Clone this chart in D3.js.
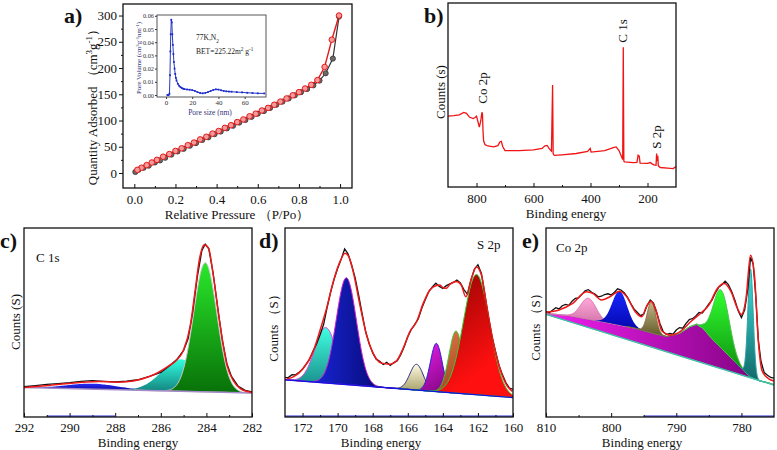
<!DOCTYPE html>
<html>
<head>
<meta charset="utf-8">
<script src="https://d3js.org/d3.v7.min.js"></script>
<style>
  body { margin: 0; background: #fff; }
  svg text { font-family: "Liberation Serif", "DejaVu Serif", serif; }
</style>
</head>
<body>
<svg id="fig" width="777" height="450"></svg>
<script>
// ---- a) N2 isotherm (adsorption = black, desorption = red) ----
var adsP = [0.005,0.02,0.045,0.07,0.1,0.125,0.15,0.18,0.21,0.24,0.27,0.3,0.33,0.36,0.39,0.42,0.45,0.48,0.51,0.54,0.57,0.6,0.63,0.66,0.69,0.72,0.75,0.78,0.81,0.84,0.87,0.9,0.93,0.965,0.995];
var adsQ = [2,6,10,14,20,24,29,35,41,46,52,57,63,68,74,79,85,90,96,101,107,113,118,124,130,136,142,148,154,160,167,176,190,218,298];
var desP = [0.995,0.96,0.925,0.89,0.86,0.83,0.8,0.77,0.74,0.71,0.68,0.65,0.62,0.59,0.56,0.53,0.5,0.47,0.44,0.41,0.38,0.35,0.32,0.29,0.26,0.23,0.2,0.17,0.14,0.11,0.085,0.06,0.035,0.015];
var desQ = [300,254,202,177,168,161,154,148,142,136,130,124,119,113,108,102,97,91,86,80,75,69,64,58,53,47,42,36,31,25,20,15,10,6];
var isoXTicks = [0,0.2,0.4,0.6,0.8,1.0];
var isoYTicks = [0,50,100,150,200,250,300];

// inset: pore size distribution
var poreD = [1,2,2.6,3,3.3,3.6,4,4.4,4.8,5.2,5.6,6,6.5,7,7.5,8,9,10,11,12,13,14,16,18,20,22,24,26,28,30,32,34,36,38,40,42,44,46,48,50,54,58,62,66,70,75];
var poreV = [0,0,0.001,0.015,0.033,0.046,0.057,0.055,0.046,0.038,0.031,0.025,0.02,0.016,0.013,0.011,0.0085,0.007,0.006,0.0053,0.0048,0.0045,0.0042,0.004,0.0037,0.0031,0.0022,0.0015,0.0013,0.0016,0.0022,0.003,0.0038,0.0043,0.0041,0.0036,0.0031,0.0028,0.0026,0.0025,0.0022,0.002,0.0017,0.0015,0.0013,0.0012];
var poreXTicks = [0,20,40,60];
var poreYTicks = [0,0.01,0.02,0.03,0.04,0.05,0.06];

// ---- b) survey spectrum ----
var surveyE = [900,880,860,845,835,825,812,805,800,795,790,785,781,779,777,775,770,760,740,725,718,713,708,700,650,600,570,560,552,545,537,533,531,527,500,450,410,401,398,350,320,310,300,292,287,285,283,280,250,237,233,229,226,200,190,185,178,170,168,166,164,162,155,130,110,100];
var surveyI = [38.5,38.8,39.2,40.5,40.0,38.0,37.2,37.8,38.5,35.5,32.5,36.0,40.6,39.5,30.0,25.0,23.0,22.3,21.8,22.5,24.5,24.8,22.0,19.8,19.8,20.2,21.0,22.4,22.6,20.8,19.5,55.4,18.0,17.2,17.5,18.2,19.3,21.0,19.0,19.8,21.4,21.8,19.8,16.8,15.0,76.0,14.0,13.6,13.2,13.4,17.3,16.8,13.0,12.8,13.3,12.7,12.0,11.8,18.2,14.0,17.0,11.5,10.6,10.3,10.0,11.2];
var surveyTicks = [800,600,400,200];

// ---- c) C 1s ----
var c1sFitE = [292,290.9,289.4,288.7,288.0,287.2,286.5,285.7,285.3,285.0,284.7,284.5,284.3,284.1,283.9,283.7,283.4,283.1,282.8,282.5,282.0];
var c1sFitI = [15.6,16.7,18.4,18.8,18.4,19.1,21.4,26.7,30.2,35.5,48.7,66.3,83.8,91.2,89.1,75.0,48.7,27.6,18.8,14.9,13.0];
var c1sRaw = [[292,16.0],[291.5,16.6],[291,17.3],[290.5,17.7],[290,18.2],[289.5,18.9],[289,19.2],[288.5,18.9],[288,18.6],[287.5,19.0],[287,19.7],[286.5,21.5],[286,23.6],[285.6,27.3],[285.3,30.4],[285,35.2],[284.8,41.5],[284.6,55.5],[284.4,74.0],[284.2,88.0],[284.05,91.5],[283.9,89.3],[283.7,75.8],[283.5,57.5],[283.3,40.5],[283.1,28.2],[282.9,21.5],[282.6,16.2],[282.3,14.1],[282,13.3]];
var c1sBase = [15.6, 12.7];
var c1sCenter = [289.0, 285.1, 284.05];
var c1sHeight = [2.9, 16.9, 68.3];
var c1sFwhm = [2.6, 2.0, 1.2];
var c1sTicks = [292,290,288,286,284,282];

// ---- d) S 2p ----
var s2pFitE = [172.9,172.5,171.95,171.4,170.91,170.63,170.25,169.87,169.58,169.39,169.11,168.73,168.35,167.97,167.5,167.02,166.64,166.26,165.88,165.5,165.12,164.74,164.36,164.17,163.98,163.79,163.6,163.22,162.94,162.69,162.37,162.08,161.8,161.51,161.13,160.75,160.37,160.03];
var s2pFitI = [20.2,21.4,25.8,34.6,48.7,57.5,71.6,82.1,86.6,85.3,76.8,59.3,43.4,33.7,28.5,27.9,29.7,36.4,45.2,50.4,60.1,67.2,69.6,69.8,68.4,68.1,70.2,71.7,69.6,63.6,73.3,79.4,75.1,59.3,39.9,25.8,17.0,13.5];
var s2pRaw = [[173,20.8],[172.8,21.0],[172.6,22.4],[172.4,22.3],[172.2,23.6],[172,25.4],[171.8,27.8],[171.6,30.5],[171.4,34.9],[171.2,38.6],[171,43.5],[170.8,48.9],[170.6,57.9],[170.4,66.0],[170.2,72.8],[170,78.6],[169.8,83.4],[169.6,88.9],[169.5,87.6],[169.4,86.2],[169.2,80.4],[169,73.6],[168.8,64.5],[168.6,54.6],[168.4,45.1],[168.2,38.8],[168,33.9],[167.8,30.6],[167.6,29.5],[167.4,27.8],[167.2,28.9],[167,27.3],[166.8,28.8],[166.6,29.7],[166.4,33.0],[166.2,37.3],[166,42.5],[165.8,46.3],[165.6,49.0],[165.4,52.0],[165.2,57.5],[165,62.1],[164.8,66.4],[164.6,68.8],[164.4,70.8],[164.2,69.1],[164,68.0],[163.8,69.5],[163.6,70.4],[163.4,71.2],[163.2,72.5],[163,70.9],[162.8,67.4],[162.6,65.0],[162.4,72.4],[162.2,78.3],[162,80.6],[161.8,75.9],[161.6,64.8],[161.4,53.0],[161.2,42.7],[161,34.9],[160.8,27.4],[160.6,22.3],[160.4,18.1],[160.2,15.3],[160,14.6]];
var s2pBase = [19.7, 10.3];
var s2pCenter = [170.68, 169.5, 165.5, 164.37, 163.25, 162.08];
var s2pHeight = [29.3, 56.5, 13.6, 25.5, 32.8, 63.6];
var s2pFwhm = [1.45, 1.35, 0.9, 0.8, 0.95, 1.75];
var s2pTicks = [172,170,168,166,164,162,160];

// ---- e) Co 2p ----
var co2pFitE = [810,808,805.9,803.8,802.8,801.5,800.2,798.7,797.6,796.3,795.3,794.6,793.9,793.2,792.2,790.9,789.3,787.8,786.3,785,783.7,782.6,781.6,780.6,780,779.3,778.6,778,777.4,776.8,775.8,775];
var co2pFitI = [55.4,56.6,60.1,66.3,65.4,61.9,63.6,66.6,63.6,55.7,53.0,58.3,61.3,57.4,45.5,43.4,45.5,50.4,54.8,59.2,68.0,70.6,66.3,57.4,54.2,62.6,85.6,75.0,39.9,24.2,20.2,19.1];
var co2pRaw = [[810,55.8],[809.5,55.2],[809,56.5],[808.5,57.8],[808,57.2],[807.5,58.9],[807,59.6],[806.5,59.1],[806,61.3],[805.5,62.8],[805,63.0],[804.5,64.9],[804,66.8],[803.5,67.4],[803,66.0],[802.5,65.1],[802,63.6],[801.5,63.9],[801,64.8],[800.5,65.2],[800,64.6],[799.5,66.0],[799,67.8],[798.5,67.2],[798,65.8],[797.5,63.4],[797,60.1],[796.5,57.2],[796,55.5],[795.5,53.6],[795,54.4],[794.5,58.9],[794,61.9],[793.5,60.3],[793,55.2],[792.5,49.4],[792,45.1],[791.5,43.6],[791,44.2],[790.5,43.8],[790,46.0],[789.5,47.3],[789,47.0],[788.5,49.5],[788,51.6],[787.5,52.0],[787,53.5],[786.5,55.3],[786,55.0],[785.5,57.4],[785,59.8],[784.5,62.0],[784,65.6],[783.5,68.6],[783,70.0],[782.5,71.9],[782,70.1],[781.5,66.4],[781,61.8],[780.5,56.2],[780,52.6],[779.5,56.7],[779,68.0],[778.6,84.5],[778.2,81.0],[777.8,64.0],[777.4,40.5],[777,29.5],[776.5,23.5],[776,22.1],[775.5,20.9],[775,20.6]];
var co2pBase = [54.3, 16.9];
var co2pBgE = [810,806.4,801.3,796.2,793.6,791.5,789.5,787.9,786.9,785.9,784.4,782.3,780.3,778.7,777.2,775];
var co2pBgI = [54.8,53.6,50.4,46.9,44.3,42.6,44.3,47.8,49.0,46.9,40.8,33.7,26.7,21.4,19.1,17.4];
var co2pCenter = [803.5, 798.7, 793.8, 783.1, 778.6];
var co2pHeight = [11, 18, 16.7, 30.7, 57];
var co2pFwhm = [2.8, 2.7, 1.5, 2.9, 0.95];
var co2pTicks = [810,800,790,780];

// ---------------------------------------------------------------
var FONT = '"Liberation Serif", "DejaVu Serif", serif';
var svg = d3.select("#fig");
var defs = svg.append("defs");

// gradient fill; dir v = top->bottom, h = left->right, d = diagonal
function grad(id, c1, c2, dir, mid) {
  var lg = defs.append("linearGradient").attr("id", id)
    .attr("x1", 0).attr("y1", 0)
    .attr("x2", dir == "v" ? 0 : 1).attr("y2", dir == "h" ? 0 : 1);
  lg.append("stop").attr("offset", "0%").attr("stop-color", c1);
  lg.append("stop").attr("offset", mid || "100%").attr("stop-color", c2);
  return "url(#" + id + ")";
}

function gauss(E, c, h, w) {
  return h * Math.exp(-4 * Math.LN2 * (E - c) * (E - c) / (w * w));
}

function frame(b) {
  svg.append("rect").attr("x", b.l).attr("y", b.t)
    .attr("width", b.r - b.l).attr("height", b.b - b.t)
    .attr("fill", "none").attr("stroke", "#111").attr("stroke-width", 1.3);
}

function clip(id, b) {
  defs.append("clipPath").attr("id", id).append("rect")
    .attr("x", b.l).attr("y", b.t).attr("width", b.r - b.l).attr("height", b.b - b.t);
  return svg.append("g").attr("clip-path", "url(#" + id + ")");
}

// bottom axis, major + minor ticks
function bottomAxis(b, x, major, minor, fmt, inward, pad) {
  var g = svg.append("g").attr("transform", "translate(0," + b.b + ")");
  g.call(d3.axisBottom(x).tickValues(major).tickSize(inward ? -4 : 4).tickPadding(pad).tickFormat(fmt));
  g.attr("font-family", FONT).attr("font-size", 13).attr("color", "#111");
  g.select(".domain").remove();
  var m = svg.append("g").attr("transform", "translate(0," + b.b + ")");
  m.call(d3.axisBottom(x).tickValues(minor).tickSize(inward ? -2 : 2).tickFormat(""));
  m.attr("color", "#111");
  m.select(".domain").remove();
}

function label(txt, x, y, size, weight) {
  return svg.append("text").attr("x", x).attr("y", y)
    .attr("font-size", size).attr("font-weight", weight || "normal")
    .attr("fill", "#111").text(txt);
}

function rich(t, parts, size) {
  parts.forEach(function(p) {
    var s = t.append("tspan").text(p[0]);
    if (p[1] == "sup") s.attr("baseline-shift", "super").attr("font-size", size * 0.7);
    if (p[1] == "sub") s.attr("baseline-shift", "sub").attr("font-size", size * 0.7);
  });
}

function vlabel(parts, x, y, size, color) {
  var t = svg.append("text")
    .attr("transform", "translate(" + x + "," + y + ") rotate(-90)")
    .attr("text-anchor", "middle").attr("font-size", size).attr("fill", color || "#111");
  rich(t, parts, size);
  return t;
}

function xtitle(x, y) {
  svg.append("text").attr("x", x).attr("y", y).attr("text-anchor", "middle")
    .attr("font-size", 13).attr("fill", "#111").text("Binding energy");
}

// ===================== a) isotherm =====================
var A = {l: 123, r: 352, t: 4, b: 188};
var xa = d3.scaleLinear().domain([-0.055, 1.058]).range([A.l, A.r]);
var ya = d3.scaleLinear().domain([-28.6, 322]).range([A.b, A.t]);

bottomAxis(A, xa, isoXTicks, [0.1,0.3,0.5,0.7,0.9], d3.format(".1f"), true, 7);
var gyA = svg.append("g").attr("transform", "translate(" + A.l + ",0)");
gyA.call(d3.axisLeft(ya).tickValues(isoYTicks).tickSize(4).tickPadding(2));
gyA.attr("font-family", FONT).attr("font-size", 13).attr("color", "#111");
gyA.select(".domain").remove();
var gyAm = svg.append("g").attr("transform", "translate(" + A.l + ",0)");
gyAm.call(d3.axisLeft(ya).tickValues([25,75,125,175,225,275]).tickSize(2).tickFormat(""));
gyAm.attr("color", "#111"); gyAm.select(".domain").remove();

var ads = adsP.map(function(p, i) { return [p, adsQ[i]]; });
var des = desP.map(function(p, i) { return [p, desQ[i]]; });
var isoLine = d3.line().x(function(d) { return xa(d[0]); }).y(function(d) { return ya(d[1]); });

svg.append("path").attr("d", isoLine(ads)).attr("fill", "none").attr("stroke", "#333").attr("stroke-width", 1.2);
svg.append("path").attr("d", isoLine(des)).attr("fill", "none").attr("stroke", "#e81818").attr("stroke-width", 1.4);
svg.append("g").selectAll("circle").data(ads).enter().append("circle")
  .attr("cx", function(d) { return xa(d[0]); }).attr("cy", function(d) { return ya(d[1]); })
  .attr("r", 2.6).attr("fill", "#6a6a6a").attr("stroke", "#333").attr("stroke-width", 0.8);
svg.append("g").selectAll("circle").data(des).enter().append("circle")
  .attr("cx", function(d) { return xa(d[0]); }).attr("cy", function(d) { return ya(d[1]); })
  .attr("r", 2.8).attr("fill", "#f49a9a").attr("stroke", "#e81818").attr("stroke-width", 1);
frame(A);

label("a)", 64, 23, 22, "bold");
svg.append("text").attr("x", 237).attr("y", 219).attr("text-anchor", "middle")
  .attr("font-size", 13).attr("fill", "#111").text("Relative Pressure \uff08P/Po\uff09");
vlabel([["Quantity Adsorbed \uff08cm"], ["3", "sup"], ["g"], ["-1", "sup"], ["\uff09"]], 97, 104, 13);

// inset
var I = {l: 157, r: 266, t: 15, b: 97};
svg.append("rect").attr("x", I.l).attr("y", I.t).attr("width", I.r - I.l).attr("height", I.b - I.t).attr("fill", "#fff");
var xi = d3.scaleLinear().domain([-6.9, 76.3]).range([I.l, I.r]);
var yi = d3.scaleLinear().domain([-0.0015, 0.0606]).range([I.b, I.t]);
var gxi = svg.append("g").attr("transform", "translate(0," + I.b + ")");
gxi.call(d3.axisBottom(xi).tickValues(poreXTicks).tickSize(2).tickPadding(1));
gxi.attr("font-family", FONT).attr("font-size", 7).attr("color", "#333");
gxi.select(".domain").remove();
var gyi = svg.append("g").attr("transform", "translate(" + I.l + ",0)");
gyi.call(d3.axisLeft(yi).tickValues(poreYTicks).tickSize(2).tickPadding(1).tickFormat(d3.format(".2f")));
gyi.attr("font-family", FONT).attr("font-size", 6.3).attr("color", "#333");
gyi.select(".domain").remove();
var pore = poreD.map(function(d, i) { return [d, poreV[i]]; });
svg.append("path").attr("d", d3.line().x(function(d) { return xi(d[0]); }).y(function(d) { return yi(d[1]); })(pore))
  .attr("fill", "none").attr("stroke", "#2a3ac0").attr("stroke-width", 1);
svg.append("g").selectAll("rect").data(pore).enter().append("rect")
  .attr("x", function(d) { return xi(d[0]) - 0.9; }).attr("y", function(d) { return yi(d[1]) - 0.9; })
  .attr("width", 1.8).attr("height", 1.8).attr("fill", "#1a2ad0");
svg.append("rect").attr("x", I.l).attr("y", I.t).attr("width", I.r - I.l).attr("height", I.b - I.t)
  .attr("fill", "none").attr("stroke", "#444").attr("stroke-width", 0.9);
var t77 = svg.append("text").attr("x", 196).attr("y", 40).attr("font-size", 7.5).attr("fill", "#222");
rich(t77, [["77K,N"], ["2", "sub"]], 7.5);
var tbet = svg.append("text").attr("x", 196).attr("y", 54).attr("font-size", 7.5).attr("fill", "#222");
rich(tbet, [["BET=225.22m"], ["2", "sup"], [" g"], ["-1", "sup"]], 7.5);
svg.append("text").attr("x", 210).attr("y", 115).attr("text-anchor", "middle")
  .attr("font-size", 7.5).attr("fill", "#33337a").text("Pore size (nm)");
vlabel([["Pore Volume (cm"], ["3", "sup"], ["g"], ["-1", "sup"], ["nm"], ["-1", "sup"], [")"]], 141, 58, 6.8, "#33337a");

// ===================== b) survey =====================
var B = {l: 448, r: 676, t: 3, b: 187};
var xb = d3.scaleLinear().domain([900, 100]).range([B.l, B.r]);
var yb = d3.scaleLinear().domain([0, 100]).range([B.b, B.t]);
bottomAxis(B, xb, surveyTicks, [700,500,300], d3.format("d"), true, 7);
var survey = surveyE.map(function(e, i) { return [e, surveyI[i]]; });
svg.append("path").attr("d", d3.line().x(function(d) { return xb(d[0]); }).y(function(d) { return yb(d[1]); })(survey))
  .attr("fill", "none").attr("stroke", "#f01414").attr("stroke-width", 1.3);
frame(B);
label("b)", 424, 23, 22, "bold");
xtitle(566, 218);
vlabel([["Counts (s)"]], 445, 92, 13);
vlabel([["Co 2p"]], 487, 88, 13);
vlabel([["C 1s"]], 627, 31, 13);
vlabel([["S 2p"]], 661, 137, 13);

// ===================== XPS panels =====================
function xpsPanel(o) {
  var b = o.box;
  var x = d3.scaleLinear().domain(o.dom).range([b.l, b.r]);
  var y = d3.scaleLinear().domain([0, 100]).range([b.b, b.t]);
  var base = d3.scaleLinear().domain(o.dom).range(o.base);
  var under = o.bg ? d3.scaleLinear().domain(o.bg[0]).range(o.bg[1]) : base;
  var g = clip(o.id, b);

  if (o.bg) {
    var pts = d3.range(o.dom[0], o.dom[1] - 0.05, -0.1);
    g.append("path").attr("d", d3.area().x(function(E) { return x(E); })
        .y0(function(E) { return y(base(E)); }).y1(function(E) { return y(under(E)); })(pts))
      .attr("fill", grad(o.id + "bg", "#f020f0", "#7a007a", "h"))
      .attr("stroke", "#58b878").attr("stroke-width", 1);
  }
  o.center.forEach(function(c, i) {
    var w = o.fwhm[i], h = o.height[i];
    var pts = d3.range(c + 2.6 * w, c - 2.6 * w, -w / 40);
    var st = o.style[i];
    g.append("path").attr("d", d3.area().x(function(E) { return x(E); })
        .y0(function(E) { return y(under(E)); })
        .y1(function(E) { return y(under(E) + gauss(E, c, h, w)); })(pts))
      .attr("fill", grad(o.id + i, st[0], st[1], st[2], st[4]))
      .attr("stroke", st[3]).attr("stroke-width", 1);
  });
  g.append("line").attr("x1", x(o.dom[0])).attr("x2", x(o.dom[1]))
    .attr("y1", y(o.base[0])).attr("y2", y(o.base[1]))
    .attr("stroke", o.baseColor).attr("stroke-width", 1.3);
  g.append("path").attr("d", d3.line().x(function(d) { return x(d[0]); }).y(function(d) { return y(d[1]); })(o.raw))
    .attr("fill", "none").attr("stroke", "#111").attr("stroke-width", 1.3);
  var fit = o.fitE.map(function(e, i) { return [e, o.fitI[i]]; });
  g.append("path").attr("d", d3.line().curve(d3.curveMonotoneX)
      .x(function(d) { return x(d[0]); }).y(function(d) { return y(d[1]); })(fit))
    .attr("fill", "none").attr("stroke", "#f01818").attr("stroke-width", 1.5);
  if (o.blue) {
    svg.append("line").attr("x1", x(o.blue[0])).attr("x2", x(o.blue[1]))
      .attr("y1", b.b - 0.8).attr("y2", b.b - 0.8).attr("stroke", "#2a2ad8").attr("stroke-width", 1.2);
  }
  bottomAxis(b, x, o.ticks, o.minor, d3.format("d"), true, 6);
  frame(b);
}

var C = {l: 24, r: 252, t: 228, b: 417};
xpsPanel({
  id: "c1s", box: C, dom: [292, 282], base: c1sBase, baseColor: "#a48ac8",
  center: c1sCenter, height: c1sHeight, fwhm: c1sFwhm,
  style: [["#2a2aff", "#00007a", "v", "none"],
          ["#30ffe0", "#127a78", "v", "none"],
          ["#2ae82a", "#087008", "v", "#c8c8c8"]],
  raw: c1sRaw, fitE: c1sFitE, fitI: c1sFitI,
  ticks: c1sTicks, minor: [291,289,287,285,283], blue: [291, 288]
});
label("c)", 0, 248, 22, "bold");
label("C 1s", 36, 262, 13);
xtitle(138, 447);
vlabel([["Counts (S)"]], 20, 322, 13);

var D = {l: 285, r: 513, t: 228, b: 417};
xpsPanel({
  id: "s2p", box: D, dom: [173, 160], base: s2pBase, baseColor: "#1414e0",
  center: s2pCenter, height: s2pHeight, fwhm: s2pFwhm,
  style: [["#40ffe0", "#188888", "v", "#e040e0"],
          ["#2030ff", "#000050", "h", "#d020d0"],
          ["#fffbe0", "#a09a60", "v", "#202080"],
          ["#ff20ff", "#600060", "d", "#2020d0"],
          ["#ff8050", "#703010", "d", "#30d030"],
          ["#7a0000", "#ff1010", "d", "#30d030", "65%"]],
  raw: s2pRaw, fitE: s2pFitE, fitI: s2pFitI,
  ticks: s2pTicks, minor: [171,169,167,165,163,161], blue: [173, 160]
});
label("d)", 259, 248, 22, "bold");
label("S 2p", 477, 249, 13);
xtitle(381, 447);
vlabel([["Counts \uff08S\uff09"]], 278, 325, 13);

var E5 = {l: 546, r: 774, t: 228, b: 417};
xpsPanel({
  id: "co2p", box: E5, dom: [810, 775], base: co2pBase, baseColor: "#40c0a8",
  bg: [co2pBgE, co2pBgI],
  center: co2pCenter, height: co2pHeight, fwhm: co2pFwhm,
  style: [["#ffa8d8", "#c86aa0", "v", "#e070b0"],
          ["#1828ff", "#0000a0", "v", "none"],
          ["#c8b888", "#605828", "v", "#807040"],
          ["#30ff30", "#0a800a", "v", "#50c050"],
          ["#40e0e0", "#106868", "v", "#30a0a0"]],
  raw: co2pRaw, fitE: co2pFitE, fitI: co2pFitI,
  ticks: co2pTicks, minor: [805,795,785], blue: [795, 775]
});
label("e)", 522, 248, 22, "bold");
label("Co 2p", 556, 252, 13);
xtitle(642, 447);
vlabel([["Counts \uff08S\uff09"]], 540, 324, 13);
</script>
</body>
</html>
